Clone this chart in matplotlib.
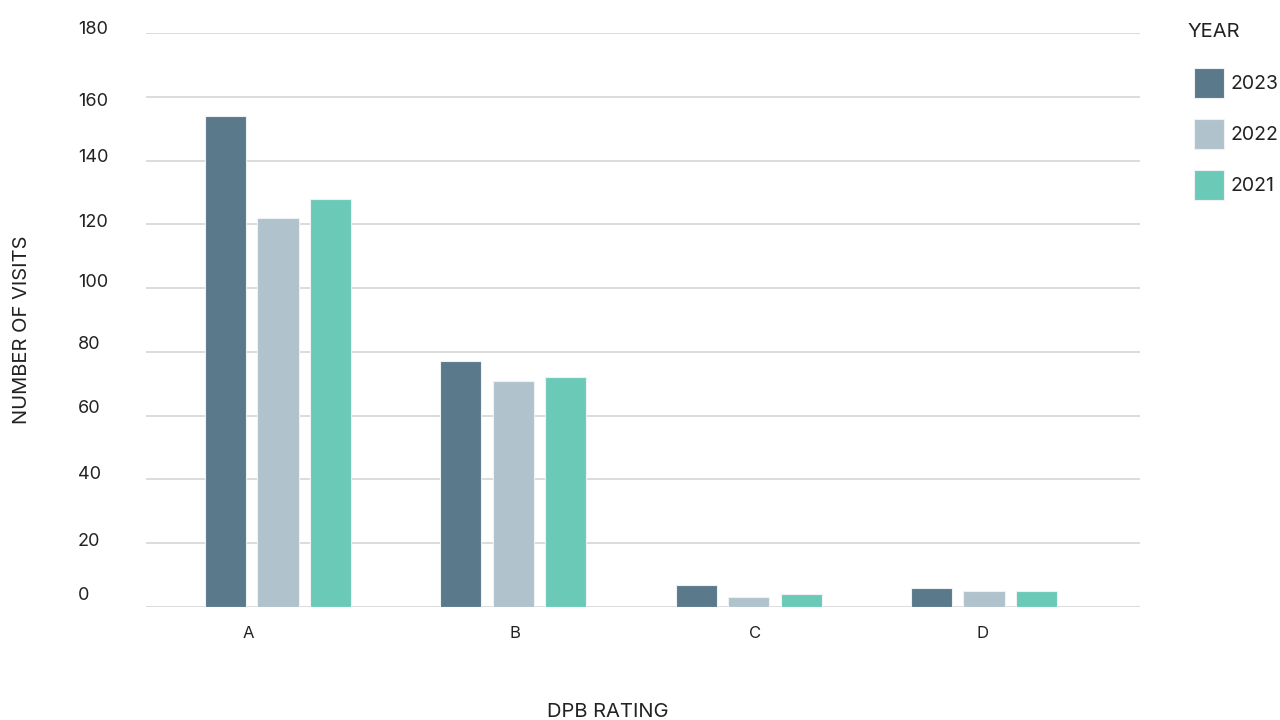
import matplotlib
matplotlib.use("Agg")
import matplotlib.pyplot as plt
import matplotlib.transforms as mtransforms
import numpy as np

plt.rcParams['font.family'] = ['Inter', 'DejaVu Sans']

# Data
ratings = ["A", "B", "C", "D"]
years = ["2023", "2022", "2021"]
visits_2023 = [154, 77, 7, 6]
visits_2022 = [122, 71, 3, 5]
visits_2021 = [128, 72, 4, 5]
y_ticks = [0, 20, 40, 60, 80, 100, 120, 140, 160, 180]

colors = ["#5a798b", "#b0c2cc", "#6bc9b8"]
series = [visits_2023, visits_2022, visits_2021]
text_color = "#222222"

fig = plt.figure(figsize=(12.8, 7.2), dpi=100)
ax = fig.add_axes([146 / 1280, 1 - 607 / 720, (1140 - 146) / 1280, (607 - 33) / 720])

x = np.arange(len(ratings))
step = 0.223
width = 0.175
for i, (vals, col, yr) in enumerate(zip(series, colors, years)):
    ax.bar(x + (i - 1) * step, vals, width=width, color=col,
           edgecolor="#eef2f4", linewidth=0.8, label=yr, zorder=3)

ax.set_xlim(-0.561, 3.663)
ax.set_ylim(0, 180)

# Horizontal grid, no spines
ax.set_yticks(y_ticks)
ax.yaxis.grid(True, color="#d9d9d9", linewidth=1.3, zorder=0)
ax.set_axisbelow(True)
for s in ax.spines.values():
    s.set_visible(False)

# Y tick labels sit left-aligned, nudged above their gridlines (pixels)
label_lift = [13, 4, 7, 9, 9, 8, 4, 5, -3, 6]
ax.tick_params(axis="y", length=0, pad=49, labelsize=13, labelcolor=text_color)
for lab, lift in zip(ax.get_yticklabels(), label_lift):
    lab.set_horizontalalignment("left")
    lab.set_transform(lab.get_transform() +
                      mtransforms.ScaledTranslation(0, lift / 100, fig.dpi_scale_trans))

label_shift = [-0.128, 0.008, 0.026, -0.004]
ax.set_xticks(x + np.array(label_shift))
ax.set_xticklabels(ratings)
ax.tick_params(axis="x", length=0, pad=14, labelsize=12, labelcolor=text_color)

fig.text(608 / 1280, 1 - 712 / 720, "DPB RATING", ha="center", va="center",
         fontsize=14.5, color=text_color)
fig.text(22 / 1280, 1 - 330 / 720, "NUMBER OF VISITS", ha="center", va="center",
         rotation=90, fontsize=14.5, color=text_color)

# Legend
fig.text(1188 / 1280, 1 - 32 / 720, "YEAR", ha="left", va="center",
         fontsize=14.5, color=text_color)
leg = ax.legend(loc="upper left", bbox_to_anchor=(1194 / 1280, 1 - 68 / 720),
                bbox_transform=fig.transFigure, frameon=False,
                fontsize=14, handlelength=1.54, handleheight=2.0,
                handletextpad=0.35, labelspacing=1.08, borderaxespad=0,
                borderpad=0)
for t in leg.get_texts():
    t.set_color(text_color)

fig.savefig("out.png", dpi=100)
